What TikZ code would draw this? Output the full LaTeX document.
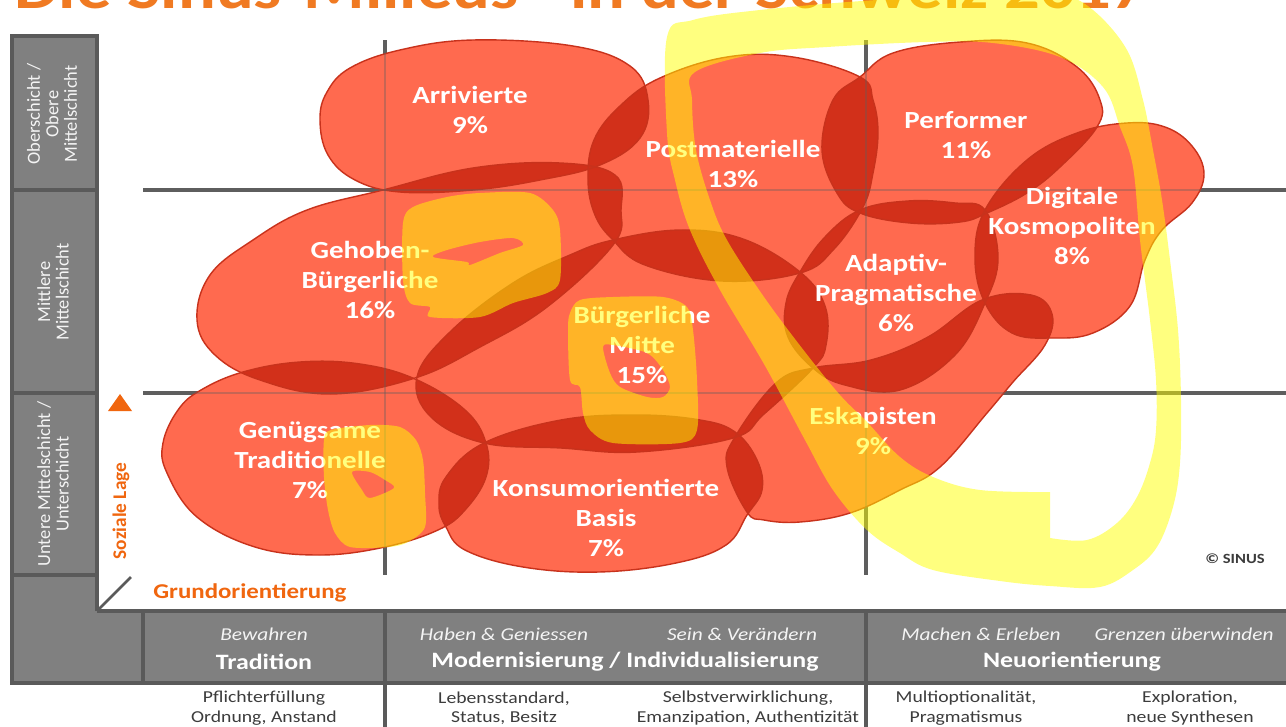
\documentclass[tikz,border=0pt]{standalone}
\usepackage{fontspec}
\setmainfont[FakeStretch=1.18]{Carlito}
\newfontfamily\sidefont{Carlito}
\definecolor{blobred}{HTML}{FF6A4F}
\definecolor{lensred}{HTML}{D2301A}
\definecolor{edgered}{HTML}{C8321C}
\definecolor{gridgray}{HTML}{5E5E5E}
\definecolor{boxgray}{HTML}{808080}
\definecolor{framegray}{HTML}{5A5A5A}
\definecolor{axorange}{HTML}{F0660F}
\definecolor{titleorange}{HTML}{F07A22}
\definecolor{hlyellow}{HTML}{FFFF00}
\definecolor{darktext}{HTML}{3C3C3C}
\definecolor{lighttext}{HTML}{F4F4F4}
\tikzset{
  blob/.style={fill=blobred},
  lens/.style={fill=lensred},
  blobedge/.style={draw=edgered, line width=0.8pt},
  grid/.style={draw=gridgray, line width=1.8pt},
  gridfaint/.style={draw=gridgray, line width=0.8pt, opacity=0.35},
  frame/.style={draw=framegray, line width=2pt},
  lbl/.style={text=white, font=\bfseries\fontsize{14}{17}\selectfont, align=center},
  sidelbl/.style={text=lighttext, font=\sidefont\fontsize{10.5}{10.5}\selectfont, align=center, rotate=90},
  barit/.style={text=lighttext, font=\itshape\fontsize{10.3}{12}\selectfont},
  barbf/.style={text=white, font=\bfseries\fontsize{12.5}{14}\selectfont},
  lowtxt/.style={text=darktext, font=\fontsize{9.5}{11}\selectfont, align=center},
  hl/.style={fill=hlyellow, fill opacity=0.5, even odd rule},
}
\def\pA{plot[smooth cycle,tension=0.65] coordinates {(320,120) (327,92) (350,68) (400,50) (473,40) (573,46) (630,66) (648,100) (640,138) (600,165) (540,180) (473,190) (400,192) (355,180) (328,155)}}
\def\pB{plot[smooth cycle,tension=0.65] coordinates {(660,78) (620,106) (594,140) (588,180) (595,215) (613,240) (645,265) (722,281) (800,273) (834,249) (863,207) (873,173) (878,133) (873,100) (860,77) (793,57) (727,57)}}
\def\pP{plot[smooth cycle,tension=0.65] coordinates {(860,77) (893,53) (960,42) (1027,43) (1077,67) (1100,100) (1097,127) (1060,167) (1027,193) (987,213) (960,222) (910,223) (860,213) (837,193) (822,150) (833,100)}}
\def\pD{plot[smooth cycle,tension=0.65] coordinates {(985,210) (1027,160) (1077,133) (1127,123) (1165,127) (1192,146) (1204,174) (1192,203) (1162,230) (1145,260) (1130,306) (1093,333) (1052,338) (1012,333) (985,303) (975,258)}}
\def\pAd{plot[smooth cycle,tension=0.65] coordinates {(800,272) (825,237) (860,210) (908,201) (955,203) (985,210) (998,258) (985,303) (955,355) (900,390) (845,385) (813,368) (788,337) (786,303)}}
\def\pM{plot[smooth cycle,tension=0.65] coordinates {(417,377) (450,332) (513,283) (570,255) (613,240) (681,230) (743,239) (800,272) (825,306) (826,345) (813,368) (764,414) (733,438) (637,452) (561,448) (484,443) (431,417)}}
\def\pE{plot[smooth cycle,tension=0.65] coordinates {(813,368) (871,360) (928,337) (982,300) (1031,295) (1052,314) (1045,345) (1013,382) (987,413) (940,467) (900,490) (850,513) (800,522) (764,520) (747,512) (727,467) (735,437) (776,383)}}
\def\pK{plot[smooth cycle,tension=0.65] coordinates {(484,443) (561,420) (637,415) (700,420) (735,432) (757,460) (762,490) (747,515) (726,545) (676,563) (599,572) (523,567) (465,550) (446,527) (439,505) (446,477)}}
\def\pN{plot[smooth cycle,tension=0.65] coordinates {(243,372) (300,362) (360,364) (415,379) (465,410) (486,443) (486,477) (465,510) (438,530) (385,547) (320,555) (255,547) (197,517) (167,473) (163,443) (178,410) (201,390)}}
\def\pG{plot[smooth cycle,tension=0.65] coordinates {(197,320) (210,275) (253,240) (307,210) (383,190) (473,168) (560,163) (615,175) (621,210) (613,245) (547,307) (480,347) (415,378) (331,394) (260,380) (215,355)}}
\newcommand\lensof[2]{\begin{scope}\clip #1; \fill[lens] #2; \end{scope}}
\begin{document}
\begin{tikzpicture}[x=0.02cm,y=-0.02cm]
\useasboundingbox (0,0) rectangle (1286,727);
\begin{scope}
\clip (0,0) rectangle (1286,727);
\fill[white] (0,0) rectangle (1286,727);
% title (cut off at the top edge, as in the source)
\node[anchor=base west, text=titleorange, font=\bfseries\fontsize{34}{34}\selectfont, inner sep=0pt] (title) at (14,8) {Die Sinus-Milieus® in der Schweiz 2017};
% grid
\draw[grid] (143,190) -- (1290,190);
\draw[grid] (143,393) -- (1290,393);
\draw[grid] (385,40) -- (385,575);
\draw[grid] (866,40) -- (866,575);
% blobs
\foreach \p in {\pA,\pB,\pP,\pD,\pAd,\pM,\pE,\pK,\pN,\pG} {\fill[blob] \p;}
\lensof{\pA}{\pB}
\lensof{\pA}{\pG}
\lensof{\pB}{\pP}
\lensof{\pB}{\pG}
\lensof{\pB}{\pM}
\lensof{\pB}{\pAd}
\lensof{\pP}{\pAd}
\lensof{\pP}{\pD}
\lensof{\pD}{\pAd}
\lensof{\pD}{\pE}
\lensof{\pAd}{\pM}
\lensof{\pAd}{\pE}
\lensof{\pM}{\pG}
\lensof{\pM}{\pN}
\lensof{\pM}{\pK}
\lensof{\pM}{\pE}
\lensof{\pG}{\pN}
\lensof{\pN}{\pK}
\lensof{\pK}{\pE}
\foreach \p in {\pA,\pB,\pP,\pD,\pAd,\pM,\pE,\pK,\pN,\pG} {\draw[blobedge] \p;}
% grid seen through the blobs
\draw[gridfaint] (143,190) -- (1290,190);
\draw[gridfaint] (143,393) -- (1290,393);
\draw[gridfaint] (385,40) -- (385,575);
\draw[gridfaint] (866,40) -- (866,575);
% labels
\node[lbl] (arr) at (470,110) {Arrivierte\\9\%};
\node[lbl] (post) at (733,164) {Postmaterielle\\13\%};
\node[lbl] (perf) at (966,135) {Performer\\11\%};
\node[lbl] (digi) at (1072,226) {Digitale\\Kosmopoliten\\8\%};
\node[lbl] (geh) at (370,280) {Gehoben-\\Bürgerliche\\16\%};
\node[lbl] (adap) at (896,293) {Adaptiv-\\Pragmatische\\6\%};
\node[lbl] (mitte) at (642,345) {Bürgerliche\\Mitte\\15\%};
\node[lbl] (eska) at (873,431) {Eskapisten\\9\%};
\node[lbl] (genu) at (310,460) {Genügsame\\Traditionelle\\7\%};
\node[lbl] (kons) at (606,518) {Konsumorientierte\\Basis\\7\%};
% frame: left column and bottom bar
\fill[boxgray] (12,36) rectangle (97,683);
\fill[boxgray] (12,611) rectangle (1290,683);
\draw[frame] (97,611) -- (97,36) -- (12,36) -- (12,683) -- (1290,683);
\draw[frame] (97,611) -- (1290,611);
\draw[frame] (12,190) -- (97,190);
\draw[frame] (12,393) -- (97,393);
\draw[frame] (12,575) -- (97,575);
\draw[frame] (143,611) -- (143,683);
\draw[frame] (385,611) -- (385,727);
\draw[frame] (866,611) -- (866,727);
\draw[draw=framegray, line width=1.6pt] (97,611) -- (131,577);
% side labels
\node[sidelbl] (oben) at (52,114) {Oberschicht /\\Obere\\Mittelschicht};
\node[sidelbl] (mittel) at (53,292) {Mittlere\\Mittelschicht};
\node[sidelbl] (unten) at (53,484) {Untere Mittelschicht /\\Unterschicht};
% axes
\fill[axorange] (108,411) -- (132,411) -- (120,394) -- cycle;
\node[rotate=90, text=axorange, font=\sidefont\bfseries\fontsize{11}{11}\selectfont] (soz) at (121,511) {Soziale Lage};
\node[anchor=west, text=axorange, font=\bfseries\fontsize{12}{12}\selectfont, inner sep=0pt] (grund) at (153,593) {Grundorientierung};
\node[text=darktext, font=\bfseries\fontsize{8}{8}\selectfont] (sinus) at (1235,559) {© SINUS};
% bottom bar
\node[barit] (bew) at (264,634) {Bewahren};
\node[barbf] (trad) at (264,662) {Tradition};
\node[barit] (hab) at (504,634) {Haben \& Geniessen};
\node[barit] (sein) at (742,634) {Sein \& Verändern};
\node[barbf] (mod) at (625,662) {Modernisierung / Individualisierung};
\node[barit] (mach) at (981,634) {Machen \& Erleben};
\node[barit] (gren) at (1184,634) {Grenzen überwinden};
\node[barbf] (neu) at (1072,662) {Neuorientierung};
% lower texts
\node[lowtxt] (t1) at (264,708) {Pflichterfüllung\\Ordnung, Anstand};
\node[lowtxt] (t2) at (504,708) {Lebensstandard,\\Status, Besitz};
\node[lowtxt] (t3) at (748,708) {Selbstverwirklichung,\\Emanzipation, Authentizität};
\node[lowtxt] (t4) at (966,708) {Multioptionalität,\\Pragmatismus};
\node[lowtxt] (t5) at (1190,708) {Exploration,\\neue Synthesen};
% highlighter marks
\fill[hl] plot[smooth cycle,tension=0.6] coordinates {(667,37) (693,20) (760,10) (877,0) (1000,-5) (1060,-5) (1093,10) (1127,50) (1143,100) (1153,150) (1162,200) (1170,260) (1178,330) (1181,400) (1180,463) (1173,507) (1157,547) (1133,570) (1100,587) (1050,586) (1000,581) (933,570) (900,553) (867,530) (833,490) (805,440) (764,364) (720,290) (690,230) (675,180) (667,133)}
  plot[smooth,tension=0.6] coordinates {(1050,492) (980,490) (933,477) (900,457) (867,422) (840,395) (805,352) (764,297) (727,240) (710,200) (696,150) (692,100) (695,72) (760,53) (827,47) (927,42) (993,43) (1060,57) (1103,87) (1120,127) (1133,167) (1140,240) (1150,320) (1156,380) (1156,430) (1150,463) (1137,497) (1117,523) (1087,540) (1050,538)} -- cycle;
\fill[hl] plot[smooth cycle,tension=0.5] coordinates {(403,223) (413,207) (447,197) (480,193) (530,193) (553,210) (560,230) (560,280) (547,293) (513,303) (480,317) (430,317) (430,307) (410,303) (403,280)}
  plot[smooth cycle,tension=0.5] coordinates {(433,257) (447,250) (480,242) (513,238) (523,245) (500,253) (470,265) (467,262)};
\fill[hl] plot[smooth cycle,tension=0.5] coordinates {(570,313) (580,300) (613,297) (663,297) (687,307) (693,330) (697,380) (697,430) (680,443) (613,443) (590,430) (583,413) (580,387) (570,380) (568,330)}
  plot[smooth cycle,tension=0.5] coordinates {(603,347) (613,345) (647,353) (663,370) (670,387) (663,397) (647,397) (620,387) (610,373)};
\fill[hl] plot[smooth cycle,tension=0.5] coordinates {(324,440) (331,430) (370,425) (400,427) (416,440) (423,460) (425,493) (425,527) (408,542) (389,547) (350,547) (335,533) (328,510) (324,477)}
  plot[smooth cycle,tension=0.5] coordinates {(352,472) (370,472) (385,480) (394,488) (370,498) (362,490)};
\end{scope}
\end{tikzpicture}
\end{document}
